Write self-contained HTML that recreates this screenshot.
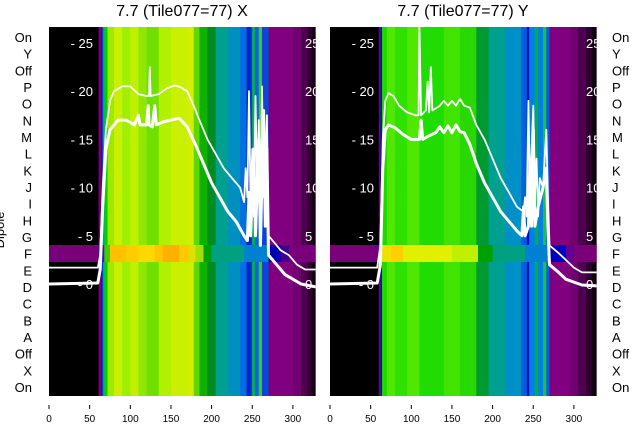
<!DOCTYPE html>
<html><head><meta charset="utf-8"><style>
html,body{margin:0;padding:0;background:#fff;width:640px;height:440px;overflow:hidden}
svg{font-family:"Liberation Sans","DejaVu Sans",sans-serif}
</style></head><body>
<svg id="s" width="640" height="440" xmlns="http://www.w3.org/2000/svg"></svg>
<script>
const rowLabels=["On","Y","Off","P","O","N","M","L","K","J","I","H","G","F","E","D","C","B","A","Off","X","On"];
const xTicks=[0,50,100,150,200,250,300];
const yTicks=[0,5,10,15,20,25];
const colsX=[[0,"#000"],[61,"#7a007a"],[64,"#1010d0"],[66,"#0090e0"],[68,"#00d000"],[72,"#a0e800"],[80,"#c8f000"],[90,"#a0ee00"],[100,"#c0f000"],[110,"#90e800"],[120,"#70e000"],[135,"#b0f000"],[150,"#c8f000"],[170,"#d0f000"],[178,"#60d800"],[185,"#10b000"],[195,"#008c20"],[205,"#00a090"],[220,"#0090c0"],[235,"#0070e0"],[243,"#0020d0"],[248,"#0040e0"],[250,"#00c030"],[253,"#1060e0"],[258,"#30d020"],[262,"#1040e0"],[267,"#0050d0"],[270,"#800080"],[300,"#700070"],[310,"#500050"],[318,"#300030"],[324,"#100010"]];
const colsY=[[0,"#000"],[60,"#7a007a"],[62,"#0010d0"],[64,"#20d800"],[70,"#50e800"],[80,"#30e000"],[95,"#50e800"],[110,"#20dc00"],[140,"#40e400"],[160,"#28d800"],[180,"#009a30"],[195,"#00a090"],[215,"#0090c8"],[235,"#0060e0"],[242,"#0010c0"],[245,"#0080e0"],[252,"#00b040"],[256,"#0080e0"],[262,"#20c040"],[266,"#0060e0"],[270,"#800080"],[295,"#700070"],[305,"#500050"],[315,"#300030"],[322,"#100010"]];
const bandX=[[0,"#7a007a"],[61,"#2020c0"],[68,"#40d000"],[75,"#ffc000"],[95,"#ffcc00"],[110,"#ffd800"],[130,"#ffc400"],[140,"#ffb000"],[160,"#ffc800"],[172,"#e0e000"],[180,"#a0e000"],[190,"#00a000"],[200,"#00a080"],[240,"#0080d0"],[270,"#0000b0"],[285,"#400090"],[295,"#7a007a"]];
const bandY=[[0,"#7a007a"],[60,"#2020c0"],[64,"#f0e000"],[75,"#ffd000"],[90,"#e0f000"],[150,"#c0f000"],[182,"#00a000"],[200,"#00a080"],[240,"#0080d0"],[270,"#0000c0"],[290,"#600090"],[300,"#7a007a"]];
const upperX=[[0,1.7],[60,1.7],[63,3],[66,10],[70,16],[75,19],[80,20],[90,20.5],[100,20.5],[110,19.7],[120,19.5],[123,19.5],[124,22.5],[125,19.5],[135,19.7],[145,20.3],[155,20.6],[162,20.4],[170,20],[178,18.5],[185,17],[195,15],[205,13.5],[215,12],[225,11],[235,10],[240,8.5],[242,12],[244,9],[246,20],[248,8],[250,14],[252,7],[254,19.5],[256,10],[258,17],[260,7],[262,20.5],[264,9],[266,12],[268,17.5],[270,5],[275,4.5],[285,3.5],[295,3],[305,2],[315,1.5],[328,1.5]];
const lowerX=[[0,0],[60,0.1],[63,1.5],[66,8],[70,14],[75,16],[85,17],[95,17],[105,16.5],[110,17.5],[112,16.5],[120,16.5],[122,18.5],[123,16.5],[127,16.3],[130,18.5],[132,16.5],[140,16.8],[150,17],[160,17.2],[170,16.3],[180,14.5],[190,12.5],[200,10.5],[210,9],[220,7.5],[230,6.5],[240,5],[244,4.5],[246,9.5],[248,5],[252,14],[254,5],[258,15],[260,4],[264,18],[266,6],[268,14],[270,3],[280,2],[290,1],[300,0.5],[310,0],[328,-0.3]];
const upperY=[[0,1.7],[58,1.7],[62,4],[65,15],[68,19],[72,19.8],[78,19.5],[85,18.5],[95,17.8],[105,17.5],[109,17.5],[110,27],[112,17.5],[118,18],[120,21],[122,17.8],[124,22.5],[126,18],[135,18.5],[140,19],[145,18.5],[150,19],[155,18.5],[160,19.2],[165,18.5],[172,18.3],[180,16.5],[190,15],[200,13],[210,11],[220,9.5],[230,8],[238,7.5],[240,9],[242,7],[244,19],[246,9],[248,14],[250,18.5],[252,9],[254,13],[256,7],[258,11],[262,10],[266,16],[268,9],[270,4],[280,3.3],[290,2.5],[300,1.7],[310,1.2],[328,1.2]];
const lowerY=[[0,0],[58,0.1],[62,2],[65,12],[68,16],[72,16.5],[80,16.2],[90,15.5],[100,15],[110,15],[112,17],[114,15],[120,15.3],[130,15.7],[135,16.3],[140,15.7],[145,16.4],[150,15.7],[155,16.5],[160,15.8],[165,15.7],[172,14.5],[180,12.5],[190,10.5],[200,9],[210,7.5],[220,6.5],[230,5.5],[236,5],[238,8],[240,5],[244,6],[246,13],[248,6],[250,16],[252,6],[256,8],[262,10],[266,12],[268,6],[270,2],[280,1.3],[290,0.5],[300,0.2],[310,-0.1],[328,-0.2]];

const S=document.getElementById('s');const NS="http://www.w3.org/2000/svg";
function mk(t,a,p){const e=document.createElementNS(NS,t);for(const k in a)e.setAttribute(k,a[k]);(p||S).appendChild(e);return e;}
const TOP=27,BOT=396,XMAX=328,SC=0.813;
const yv=v=>284-9.64*v;
function panel(x0,cols,band,up,lo,title,name){
  const xs=v=>x0+v*SC;
  const g=mk('g',{});
  
  
  const cid='c'+name;const cp=mk('clipPath',{id:cid},g);mk('rect',{x:x0,y:TOP,width:XMAX*SC,height:BOT-TOP},cp);
  const inner=mk('g',{'clip-path':'url(#'+cid+')'},g);
  cols.forEach((c,i)=>{const e=i+1<cols.length?cols[i+1][0]:XMAX;const r=mk('rect',{x:xs(c[0]),y:TOP,width:xs(e)-xs(c[0])+0.5,height:BOT-TOP,fill:c[1]},inner);
    });
  band.forEach((c,i)=>{const e=i+1<band.length?band[i+1][0]:XMAX;const r=mk('rect',{x:xs(c[0]),y:245,width:xs(e)-xs(c[0])+0.5,height:17,fill:c[1]},inner);
    });
  yTicks.forEach(v=>{const t=mk('text',{x:x0+44,y:yv(v)+5,fill:'#fff','font-size':13,'text-anchor':'end'},inner);t.textContent='- '+v;
    
    const t2=mk('text',{x:x0+256,y:yv(v)+5,fill:'#fff','font-size':13},inner);t2.textContent=v;
    });
  [[up,1.8],[lo,3]].forEach((d,i)=>{const p=mk('path',{d:d[0].map((q,j)=>(j?'L':'M')+xs(q[0]).toFixed(1)+','+yv(q[1]).toFixed(1)).join(''),fill:'none',stroke:'#fff','stroke-width':d[1],'stroke-linejoin':'round'},inner);
    });
  xTicks.forEach(v=>{mk('line',{x1:xs(v),x2:xs(v),y1:405,y2:409,stroke:'#000','stroke-width':1},g);
    const t=mk('text',{x:xs(v),y:422,'font-size':10,'text-anchor':'middle'},g);t.textContent=v;
    });
  const t=mk('text',{x:x0+133,y:16,'font-size':16,'text-anchor':'middle'},g);t.textContent=title;
  
}
panel(49,colsX,bandX,upperX,lowerX,"7.7 (Tile077=77) X","panel-x");
panel(330,colsY,bandY,upperY,lowerY,"7.7 (Tile077=77) Y","panel-y");
rowLabels.forEach((l,i)=>{const y=42+i*16.67;
  const a=mk('text',{x:32,y:y,'font-size':13,'text-anchor':'end'});a.textContent=l;
  
  const b=mk('text',{x:612,y:y,'font-size':13});b.textContent=l;
  });
const yl=mk('text',{x:4,y:230,'font-size':13,'text-anchor':'middle',transform:'rotate(-90 4 230)'});yl.textContent='Dipole';

</script>
</body></html>
